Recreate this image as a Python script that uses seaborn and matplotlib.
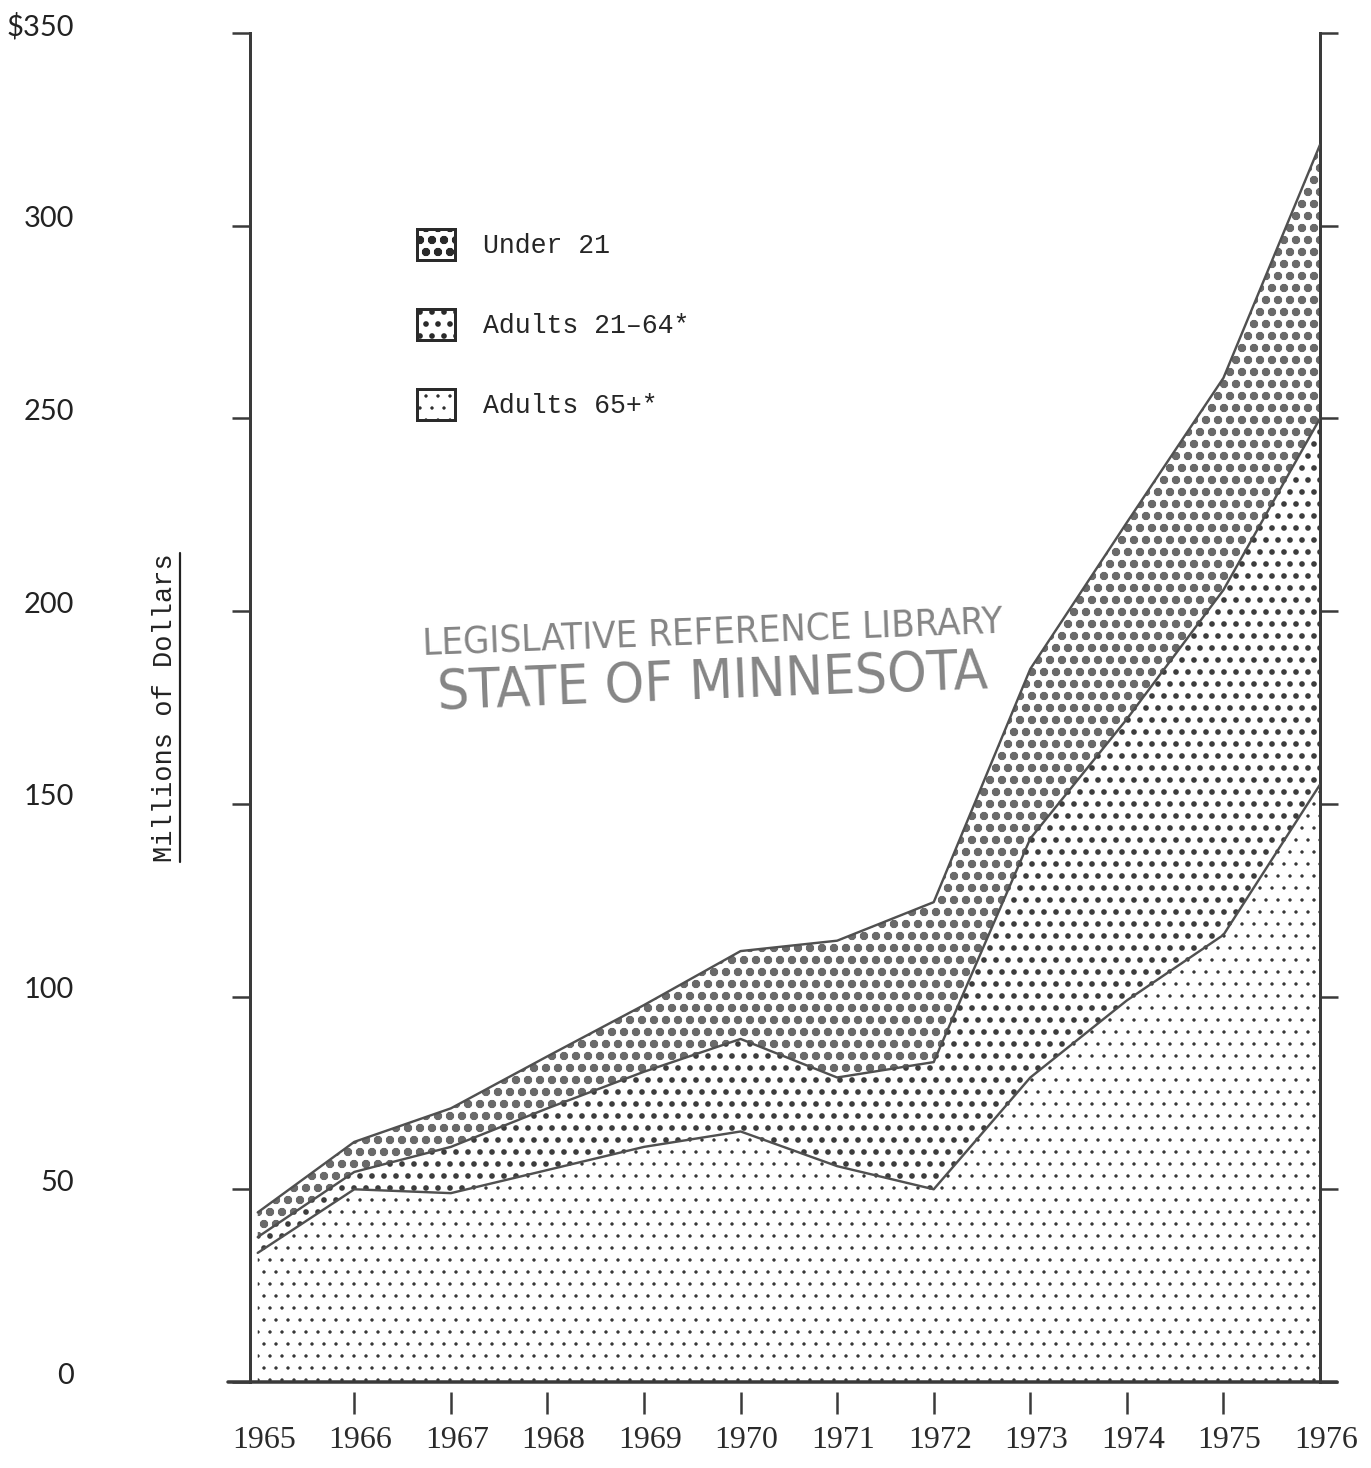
import numpy as np
import matplotlib
matplotlib.use("Agg")
import matplotlib.pyplot as plt
import seaborn as sns
from matplotlib.patches import Patch
from matplotlib.lines import Line2D
from matplotlib.transforms import ScaledTranslation

# values (millions of dollars, stacked bottom -> top)
years = [1965, 1966, 1967, 1968, 1969, 1970, 1971, 1972, 1973, 1974, 1975, 1976]
adults_65 = [33.5, 50, 49, 55, 61, 65, 56, 50, 79, 99, 116, 155]
adults_21_64 = [4.1, 4.5, 12, 16, 19.5, 24, 23, 33, 62, 73, 89.5, 95]
under_21 = [6.4, 7.8, 10, 13.5, 17.3, 22.8, 35.5, 41.5, 44, 51, 55, 71]

series_labels = ["Under 21", "Adults 21\u201364*", "Adults 65+*"]
y_ticks = [0, 50, 100, 150, 200, 250, 300, 350]
y_tick_labels = ["0", "50", "100", "150", "200", "250", "300", "$350"]
stamp_lines = ["LEGISLATIVE REFERENCE LIBRARY", "STATE OF MINNESOTA"]

sns.set_style("ticks")
plt.rcParams["font.family"] = ["Liberation Mono", "DejaVu Sans"]

INK = "#3a3a3a"
DPI = 72
W, H = 1371, 1468

fig = plt.figure(figsize=(W / DPI, H / DPI), dpi=DPI)
ax = fig.add_axes([250 / W, 86 / H, 1070 / W, 1349 / H])

x = np.array(years, dtype=float)
low = np.array(adults_65, dtype=float)
mid = low + np.array(adults_21_64)
top = mid + np.array(under_21)

# hatch pattern, hatch line width, colour for each band (bottom -> top)
band_styles = [(".", 0.9, "#333333"), (".", 3.2, "#3c3c3c"), ("o", 3.4, "#6a6a6a")]
bounds = [np.zeros_like(low), low, mid, top]
for i, (hatch, hlw, col) in enumerate(band_styles):
    with plt.rc_context({"hatch.linewidth": hlw, "hatch.color": col}):
        coll = ax.fill_between(x, bounds[i], bounds[i + 1], facecolor="white",
                               edgecolor=col, hatch=hatch, linewidth=0, zorder=1)
    if hasattr(coll, "set_hatch_linewidth"):
        coll.set_hatch_linewidth(hlw)

for yv in (low, mid, top):
    sns.lineplot(x=x, y=yv, ax=ax, color="#505050", linewidth=2.4,
                 zorder=3, legend=False)

ax.set_xlim(1964.92, 1976)
ax.set_ylim(0, 350)

# frame: open top, x ticks hang below a detached baseline
ax.spines["top"].set_visible(False)
ax.spines["bottom"].set_position(("outward", 10))
ax.spines["bottom"].set_visible(False)
for s in ("left", "right"):
    ax.spines[s].set_linewidth(3)
    ax.spines[s].set_color(INK)
ax.axhline(0, xmin=-0.021, xmax=1.016, color=INK, lw=3.5, clip_on=False, zorder=4)

ax.set_xticks(years)
ax.set_xticklabels([str(y) for y in years], fontfamily="Liberation Serif",
                   fontsize=32, color="#2a2a2a")
ax.tick_params(axis="x", direction="out", length=22, width=2.5, color=INK, pad=12)
xt = ax.xaxis.get_major_ticks()
xt[0].tick1line.set_visible(False)
xt[-1].tick1line.set_visible(False)

ax.set_yticks(y_ticks)
ax.set_yticklabels(y_tick_labels, fontfamily="Lato", fontsize=29, color="#222222")
ax.tick_params(axis="y", direction="out", length=18, width=2.5, color=INK,
               pad=158, left=True, right=True, labelright=False)

up = ScaledTranslation(0, 9 / 72, fig.dpi_scale_trans)
for lab in ax.get_yticklabels():
    lab.set_transform(lab.get_transform() + up)
shift = ScaledTranslation(6 / 72, 0, fig.dpi_scale_trans)
for lab in ax.get_xticklabels():
    lab.set_transform(lab.get_transform() + shift)

ax.set_ylabel("Millions of Dollars", fontsize=27, color="#222222",
              fontfamily="Liberation Mono")
ax.yaxis.set_label_coords(-0.0794, 0.5)
ax.yaxis.label.set_verticalalignment("center")

# legend, swatches in the same patterns (top band first)
handles = []
for hatch, hlw, col in band_styles[::-1]:
    p = Patch(facecolor="white", edgecolor="#2a2a2a", hatch=hatch, linewidth=3)
    if hasattr(p, "set_hatch_linewidth"):
        p.set_hatch_linewidth(hlw)
    handles.append(p)
leg = ax.legend(handles, series_labels, loc="upper left",
                bbox_to_anchor=(0.156, 0.855), frameon=False,
                prop={"family": "Liberation Mono", "size": 26.5},
                handlelength=1.43, handleheight=1.43, handletextpad=1.06,
                labelspacing=1.85, borderpad=0, borderaxespad=0)
for lp, (hatch, hlw, col) in zip(leg.get_patches(), band_styles[::-1]):
    if hasattr(lp, "set_hatch_linewidth"):
        lp.set_hatch_linewidth(hlw)

# library stamp
stamp_kw = dict(transform=ax.transAxes, rotation=2.2, rotation_mode="anchor",
                ha="center", va="center", color="#858585",
                family="DejaVu Sans", stretch="condensed")
ax.text(0.432, 0.554, stamp_lines[0], fontsize=38, **stamp_kw)
ax.text(0.432, 0.518, stamp_lines[1], fontsize=56, **stamp_kw)

# underline for the axis title
fig.canvas.draw()
bb = ax.yaxis.label.get_window_extent().transformed(fig.transFigure.inverted())
fig.add_artist(Line2D([bb.x1 + 2 / W] * 2, [bb.y0, bb.y1],
                      transform=fig.transFigure, color="#222222", lw=2.2))

fig.savefig("out.png", dpi=DPI)
